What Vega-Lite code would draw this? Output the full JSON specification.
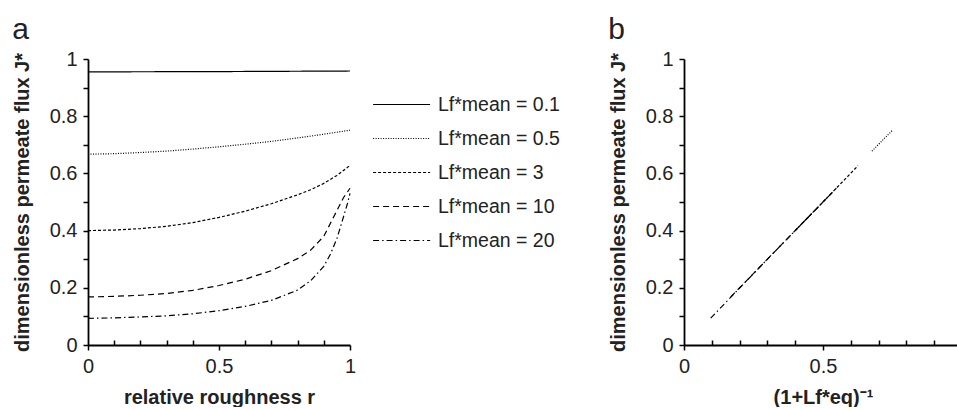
{
  "$schema": "https://vega.github.io/schema/vega-lite/v6.json",
  "background": "white",
  "padding": {"left": 12, "top": 15, "right": 0, "bottom": 0},
  "spacing": 252,
  "config": {
    "font": "Liberation Sans",
    "view": {"stroke": null},
    "axis": {
      "grid": false,
      "domainColor": "black",
      "domainWidth": 1.8,
      "tickColor": "black",
      "tickWidth": 1.5,
      "tickSize": 5,
      "labelColor": "#222",
      "labelFont": "Liberation Sans",
      "labelFontSize": 20,
      "labelFlush": false,
      "labelPadding": 6,
      "titleColor": "#222",
      "titleFont": "Liberation Sans",
      "titleFontSize": 20,
      "titleFontWeight": "bold"
    },
    "legend": {
      "labelFont": "Liberation Sans",
      "labelFontSize": 19.5,
      "labelColor": "#222"
    },
    "title": {"font": "Liberation Sans", "fontSize": 30, "fontWeight": "normal", "color": "#222", "anchor": "start", "frame": "bounds", "offset": 4}
  },
  "datasets": {
    "pa": [
      {"series": "Lf*mean = 0.1", "r": 0, "J": 0.955},
      {"series": "Lf*mean = 0.1", "r": 0.5, "J": 0.956},
      {"series": "Lf*mean = 0.1", "r": 1, "J": 0.958},
      {"series": "Lf*mean = 0.5", "r": 0, "J": 0.667},
      {"series": "Lf*mean = 0.5", "r": 0.1, "J": 0.669},
      {"series": "Lf*mean = 0.5", "r": 0.2, "J": 0.673},
      {"series": "Lf*mean = 0.5", "r": 0.3, "J": 0.678},
      {"series": "Lf*mean = 0.5", "r": 0.4, "J": 0.685},
      {"series": "Lf*mean = 0.5", "r": 0.5, "J": 0.693},
      {"series": "Lf*mean = 0.5", "r": 0.6, "J": 0.702},
      {"series": "Lf*mean = 0.5", "r": 0.7, "J": 0.712},
      {"series": "Lf*mean = 0.5", "r": 0.8, "J": 0.724},
      {"series": "Lf*mean = 0.5", "r": 0.9, "J": 0.737},
      {"series": "Lf*mean = 0.5", "r": 1, "J": 0.751},
      {"series": "Lf*mean = 3", "r": 0, "J": 0.4},
      {"series": "Lf*mean = 3", "r": 0.1, "J": 0.402},
      {"series": "Lf*mean = 3", "r": 0.2, "J": 0.407},
      {"series": "Lf*mean = 3", "r": 0.3, "J": 0.415},
      {"series": "Lf*mean = 3", "r": 0.4, "J": 0.428},
      {"series": "Lf*mean = 3", "r": 0.5, "J": 0.446},
      {"series": "Lf*mean = 3", "r": 0.6, "J": 0.468},
      {"series": "Lf*mean = 3", "r": 0.7, "J": 0.494},
      {"series": "Lf*mean = 3", "r": 0.8, "J": 0.525},
      {"series": "Lf*mean = 3", "r": 0.85, "J": 0.543},
      {"series": "Lf*mean = 3", "r": 0.9, "J": 0.565},
      {"series": "Lf*mean = 3", "r": 0.95, "J": 0.593},
      {"series": "Lf*mean = 3", "r": 1, "J": 0.628},
      {"series": "Lf*mean = 10", "r": 0, "J": 0.168},
      {"series": "Lf*mean = 10", "r": 0.1, "J": 0.17},
      {"series": "Lf*mean = 10", "r": 0.2, "J": 0.174},
      {"series": "Lf*mean = 10", "r": 0.3, "J": 0.18},
      {"series": "Lf*mean = 10", "r": 0.4, "J": 0.191},
      {"series": "Lf*mean = 10", "r": 0.5, "J": 0.208},
      {"series": "Lf*mean = 10", "r": 0.6, "J": 0.23},
      {"series": "Lf*mean = 10", "r": 0.7, "J": 0.26},
      {"series": "Lf*mean = 10", "r": 0.8, "J": 0.302},
      {"series": "Lf*mean = 10", "r": 0.85, "J": 0.332},
      {"series": "Lf*mean = 10", "r": 0.9, "J": 0.38},
      {"series": "Lf*mean = 10", "r": 0.95, "J": 0.47},
      {"series": "Lf*mean = 10", "r": 0.975, "J": 0.515},
      {"series": "Lf*mean = 10", "r": 1, "J": 0.548},
      {"series": "Lf*mean = 20", "r": 0, "J": 0.093},
      {"series": "Lf*mean = 20", "r": 0.1, "J": 0.095},
      {"series": "Lf*mean = 20", "r": 0.2, "J": 0.098},
      {"series": "Lf*mean = 20", "r": 0.3, "J": 0.102},
      {"series": "Lf*mean = 20", "r": 0.4, "J": 0.109},
      {"series": "Lf*mean = 20", "r": 0.5, "J": 0.12},
      {"series": "Lf*mean = 20", "r": 0.6, "J": 0.135},
      {"series": "Lf*mean = 20", "r": 0.7, "J": 0.156},
      {"series": "Lf*mean = 20", "r": 0.8, "J": 0.192},
      {"series": "Lf*mean = 20", "r": 0.85, "J": 0.225},
      {"series": "Lf*mean = 20", "r": 0.9, "J": 0.275},
      {"series": "Lf*mean = 20", "r": 0.925, "J": 0.317},
      {"series": "Lf*mean = 20", "r": 0.95, "J": 0.372},
      {"series": "Lf*mean = 20", "r": 0.97, "J": 0.432},
      {"series": "Lf*mean = 20", "r": 0.99, "J": 0.494},
      {"series": "Lf*mean = 20", "r": 1, "J": 0.53}
    ],
    "pb": [
      {"series": "Lf*mean = 0.5", "x": 0.676, "J": 0.678},
      {"series": "Lf*mean = 0.5", "x": 0.75, "J": 0.751},
      {"series": "Lf*mean = 3", "x": 0.4, "J": 0.4},
      {"series": "Lf*mean = 3", "x": 0.5, "J": 0.5},
      {"series": "Lf*mean = 3", "x": 0.626, "J": 0.627},
      {"series": "Lf*mean = 10", "x": 0.168, "J": 0.168},
      {"series": "Lf*mean = 10", "x": 0.35, "J": 0.35},
      {"series": "Lf*mean = 10", "x": 0.548, "J": 0.548},
      {"series": "Lf*mean = 20", "x": 0.096, "J": 0.094},
      {"series": "Lf*mean = 20", "x": 0.3, "J": 0.3},
      {"series": "Lf*mean = 20", "x": 0.53, "J": 0.53}
    ]
  },
  "hconcat": [
    {
      "width": 262,
      "height": 286,
      "title": {"text": "a"},
      "data": {"name": "pa"},
      "mark": {"type": "line", "color": "black", "strokeWidth": 1.2},
      "encoding": {
        "x": {
          "field": "r", "type": "quantitative",
          "scale": {"domain": [0, 1], "nice": false},
          "axis": {
            "title": "relative roughness  r",
            "values": [0, 0.1, 0.2, 0.3, 0.4, 0.5, 0.6, 0.7, 0.8, 0.9, 1],
            "labelExpr": "datum.value == 0 || datum.value == 0.5 || datum.value == 1 ? format(datum.value, '~g') : ''",
            "tickSize": {"condition": {"test": "datum.value == 0 || datum.value == 0.5 || datum.value == 1", "value": 5}, "value": -5},
            "titlePadding": 11
          }
        },
        "y": {
          "field": "J", "type": "quantitative",
          "scale": {"domain": [0, 1], "nice": false},
          "axis": {
            "title": "dimensionless permeate flux J*",
            "values": [0, 0.1, 0.2, 0.3, 0.4, 0.5, 0.6, 0.7, 0.8, 0.9, 1],
            "labelExpr": "round(datum.value * 10) % 2 == 0 ? format(datum.value, '~g') : ''",
            "titlePadding": 17
          }
        },
        "strokeDash": {
          "field": "series", "type": "nominal",
          "scale": {
            "domain": ["Lf*mean = 0.1", "Lf*mean = 0.5", "Lf*mean = 3", "Lf*mean = 10", "Lf*mean = 20"],
            "range": [[1, 0], [1, 1.5], [3, 2], [6, 4], [6, 3, 1.5, 3]]
          },
          "legend": {
            "title": null,
            "orient": "none",
            "legendX": 284,
            "legendY": 33,
            "symbolType": "M-1,0H4",
            "symbolFillColor": "transparent",
            "symbolStrokeColor": "black",
            "symbolStrokeWidth": 1.2,
            "symbolSize": 520,
            "labelOffset": 41,
            "rowPadding": 12
          }
        }
      }
    },
    {
      "width": 278,
      "height": 286,
      "title": {"text": "b"},
      "data": {"name": "pb"},
      "mark": {"type": "line", "color": "black", "strokeWidth": 1.2},
      "encoding": {
        "x": {
          "field": "x", "type": "quantitative",
          "scale": {"domain": [0, 1], "nice": false},
          "axis": {
            "title": "(1+Lf*eq)⁻¹",
            "values": [0, 0.1, 0.2, 0.3, 0.4, 0.5, 0.6, 0.7, 0.8, 0.9, 1],
            "labelExpr": "datum.value == 0 || datum.value == 0.5 || datum.value == 1 ? format(datum.value, '~g') : ''",
            "tickSize": {"condition": {"test": "datum.value == 0 || datum.value == 0.5 || datum.value == 1", "value": 5}, "value": -5},
            "titlePadding": 11
          }
        },
        "y": {
          "field": "J", "type": "quantitative",
          "scale": {"domain": [0, 1], "nice": false},
          "axis": {
            "title": "dimensionless permeate flux J*",
            "values": [0, 0.1, 0.2, 0.3, 0.4, 0.5, 0.6, 0.7, 0.8, 0.9, 1],
            "labelExpr": "round(datum.value * 10) % 2 == 0 ? format(datum.value, '~g') : ''",
            "titlePadding": 17
          }
        },
        "strokeDash": {
          "field": "series", "type": "nominal",
          "scale": {
            "domain": ["Lf*mean = 0.1", "Lf*mean = 0.5", "Lf*mean = 3", "Lf*mean = 10", "Lf*mean = 20"],
            "range": [[1, 0], [1, 1.5], [3, 2], [6, 4], [6, 3, 1.5, 3]]
          },
          "legend": null
        }
      }
    }
  ]
}
